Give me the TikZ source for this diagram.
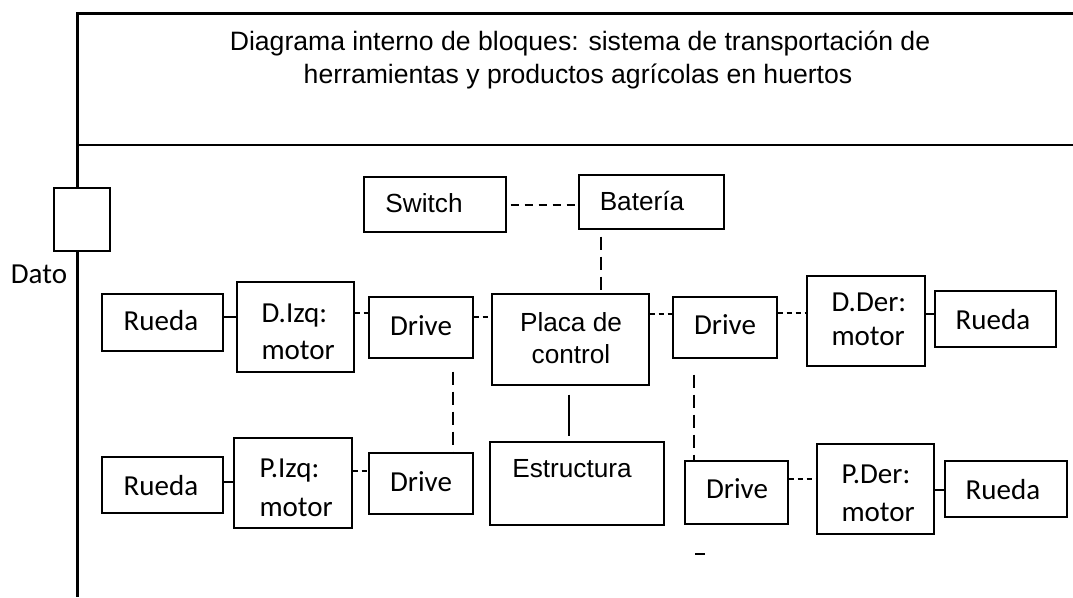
\documentclass[tikz,border=0pt]{standalone}
\usepackage{fontspec}
\setmainfont{Liberation Sans}
\newfontfamily\calibri{Carlito}
\begin{document}
\begin{tikzpicture}[x=1pt,y=-1pt,
  blk/.style={draw=black, line width=1.2pt, inner sep=0pt, fill=white},
  ar/.style={font=\fontsize{26.2}{30}\selectfont, anchor=base},
  hd/.style={font=\fontsize{26.6}{30}\selectfont, anchor=base},
  ca/.style={font=\calibri\fontsize{29}{32}\selectfont, anchor=base},
  caw/.style={font=\calibri\fontsize{29}{32}\selectfont, anchor=base west},
  link/.style={line width=1.2pt},
  longdash/.style={line width=1.2pt, dash pattern=on 13pt off 7pt, dash phase=13pt},
  meddash/.style={line width=1.2pt, dash pattern=on 8pt off 6pt},
  shortdash/.style={line width=1.2pt, dash pattern=on 5pt off 4pt}]
\useasboundingbox (0,0) rectangle (1073,597);

% frame of the block diagram
\draw[line width=3pt] (1073,13) -- (77,13) -- (77,597);
\draw[line width=1.2pt] (77,145) -- (1073,145);
\node[blk, line width=2.4pt, minimum width=56pt, minimum height=63pt] (port) at (82,219.5) {};
\node[ca] (dato) at (39,283) {Dato};

% heading
\node[hd] (title1) at (580,50) {Diagrama interno de bloques: sistema de transportación de};
\node[hd] (title2) at (578,83) {herramientas y productos agrícolas en huertos};

% blocks
\node[blk, minimum width=142pt, minimum height=55pt] (sw) at (435,204.5) {};
\node[blk, minimum width=145pt, minimum height=54pt] (bat) at (651.5,202) {};
\node[blk, minimum width=157pt, minimum height=91pt] (placa) at (570.5,339.5) {};
\node[blk, minimum width=174pt, minimum height=83pt] (estr) at (577,483.5) {};
\node[blk, minimum width=121pt, minimum height=57pt] (r1) at (162.5,322.5) {};
\node[blk, minimum width=117pt, minimum height=90pt] (dizq) at (295.5,327) {};
\node[blk, minimum width=104pt, minimum height=61pt] (drv1) at (421,327.5) {};
\node[blk, minimum width=121pt, minimum height=56pt] (r2) at (162.5,485) {};
\node[blk, minimum width=118pt, minimum height=90pt] (pizq) at (293,483) {};
\node[blk, minimum width=104pt, minimum height=61pt] (drv2) at (421,483.5) {};
\node[blk, minimum width=104pt, minimum height=61pt] (drv3) at (725,327.5) {};
\node[blk, minimum width=118pt, minimum height=90pt] (dder) at (866,321) {};
\node[blk, minimum width=121pt, minimum height=56pt] (r3) at (995.5,319) {};
\node[blk, minimum width=103pt, minimum height=63pt] (drv4) at (736.5,492.5) {};
\node[blk, minimum width=117pt, minimum height=90pt] (pder) at (875.5,489) {};
\node[blk, minimum width=122pt, minimum height=56pt] (r4) at (1006,489) {};

% block texts
\node[ar] at (424,212) {Switch};
\node[ar] at (642,210) {Batería};
\node[ar] at (571,331) {Placa de};
\node[ar] at (571,363) {control};
\node[ar] at (572,477) {Estructura};
\node[ca] at (161,330) {Rueda};
\node[ca] at (161,495) {Rueda};
\node[ca] at (993,329) {Rueda};
\node[ca] at (1003,499) {Rueda};
\node[ca] at (421,335) {Drive};
\node[ca] at (421,491) {Drive};
\node[ca] at (725,334) {Drive};
\node[ca] at (737,498) {Drive};
\node[caw] at (258,322) {D.Izq:};
\node[caw] at (258,359) {motor};
\node[caw] at (256,477) {P.Izq:};
\node[caw] at (256,516) {motor};
\node[caw] at (828,311) {D.Der:};
\node[caw] at (828,345) {motor};
\node[caw] at (838,483) {P.Der:};
\node[caw] at (838,521) {motor};

% connectors
\draw[meddash, shorten <=4pt] (sw.east |- 0,205) -- (bat.west |- 0,205);
\draw[longdash] (bat.south -| 601,0) -- (placa.north -| 601,0);
\draw[link] (r1.east |- 0,317) -- (dizq.west |- 0,317);
\draw[shortdash] (dizq.east |- 0,313) -- (drv1.west |- 0,313);
\draw[shortdash] (drv1.east |- 0,317) -- (placa.west |- 0,317);
\draw[longdash, shorten <=6pt] (drv1.south -| 453,0) -- (drv2.north -| 453,0);
\draw[link] (r2.east |- 0,482) -- (pizq.west |- 0,482);
\draw[shortdash] (pizq.east |- 0,471) -- (drv2.west |- 0,471);
\draw[shortdash] (placa.east |- 0,314) -- (drv3.west |- 0,314);
\draw[link, shorten <=9pt, shorten >=5pt] (placa.south -| 569,0) -- (estr.north -| 569,0);
\draw[longdash, shorten <=9pt] (drv3.south -| 694,0) -- (drv4.north -| 694,0);
\draw[shortdash] (drv3.east |- 0,313) -- (dder.west |- 0,313);
\draw[link] (dder.east |- 0,314) -- (r3.west |- 0,314);
\draw[shortdash] (drv4.east |- 0,479) -- (pder.west |- 0,479);
\draw[link] (pder.east |- 0,490) -- (r4.west |- 0,490);

% stray short mark under the right drive
\draw[line width=1.2pt] (695,554) -- (705,554);
\end{tikzpicture}
\end{document}
